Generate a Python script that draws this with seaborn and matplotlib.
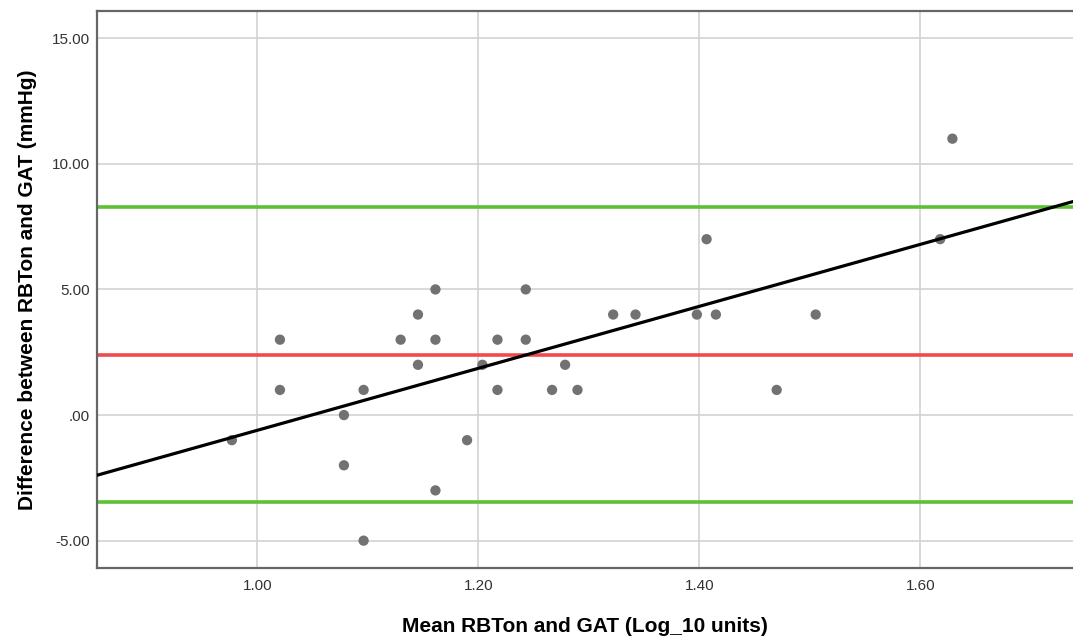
import matplotlib
matplotlib.use("Agg")
import matplotlib.pyplot as plt
import seaborn as sns
import numpy as np
import pandas as pd

# Data
mean_log10 = [0.977, 1.0205, 1.0205, 1.0784, 1.0784, 1.0962, 1.0962, 1.1297,
              1.1454, 1.1454, 1.1612, 1.1612, 1.1612, 1.1898, 1.2037, 1.2173,
              1.2173, 1.2429, 1.2429, 1.2667, 1.2785, 1.2897, 1.3220, 1.3422,
              1.3977, 1.4065, 1.4149, 1.4699, 1.5052, 1.6178, 1.6289]
difference = [-1, 3, 1, 0, -2, 1, -5, 3,
              4, 2, 5, 3, -3, -1, 2, 3,
              1, 5, 3, 1, 2, 1, 4, 4,
              4, 7, 4, 1, 4, 7, 11]
mean_diff = 2.40
loa_upper = 8.27
loa_lower = -3.47

x_ticks = [1.00, 1.20, 1.40, 1.60]
x_tick_labels = ["1.00", "1.20", "1.40", "1.60"]
y_ticks = [-5, 0, 5, 10, 15]
y_tick_labels = ["-5.00", ".00", "5.00", "10.00", "15.00"]

df = pd.DataFrame({"mean": mean_log10, "diff": difference})

sns.set_theme(style="white")
plt.rcParams["font.family"] = ["Liberation Sans", "DejaVu Sans"]

fig = plt.figure(figsize=(10.73, 6.39), dpi=100)
ax = fig.add_axes([97 / 1073, 1 - 568.3 / 639, 1 - 97 / 1073, (568.3 - 11.3) / 639])

ax.set_xlim(0.855, 1.738)
ax.set_ylim(-6.10, 16.07)

ax.set_xticks(x_ticks)
ax.set_xticklabels(x_tick_labels)
ax.set_yticks(y_ticks)
ax.set_yticklabels(y_tick_labels)
ax.grid(True, color="#d2d2d2", linewidth=1.2, zorder=0)
ax.set_axisbelow(True)

ax.axhline(loa_upper, color="#5cc234", linewidth=2.6, zorder=2)
ax.axhline(loa_lower, color="#5cc234", linewidth=2.6, zorder=2)
ax.axhline(mean_diff, color="#ef4b4f", linewidth=2.6, zorder=2)

sns.regplot(data=df, x="mean", y="diff", ax=ax, ci=None, truncate=False,
            scatter_kws=dict(s=55, color="#727272", edgecolor="none", zorder=3, alpha=1),
            line_kws=dict(color="black", linewidth=2.3, zorder=4))

ax.set_xlim(0.855, 1.738)
ax.set_ylim(-6.10, 16.07)

ax.set_xlabel("Mean RBTon and GAT (Log_10 units)", fontsize=15, fontweight="bold",
              color="black", labelpad=17)
ax.set_ylabel("Difference between RBTon and GAT (mmHg)", fontsize=15, fontweight="bold",
              color="black", labelpad=11)
ax.tick_params(axis="x", labelsize=11, colors="#333333", length=0, pad=8)
ax.tick_params(axis="y", labelsize=11, colors="#333333", length=0, pad=5)

for side in ["left", "bottom", "top"]:
    ax.spines[side].set_visible(True)
    ax.spines[side].set_color("#666666")
    ax.spines[side].set_linewidth(1.6)
ax.spines["right"].set_visible(False)

fig.savefig("out.png", dpi=100)
